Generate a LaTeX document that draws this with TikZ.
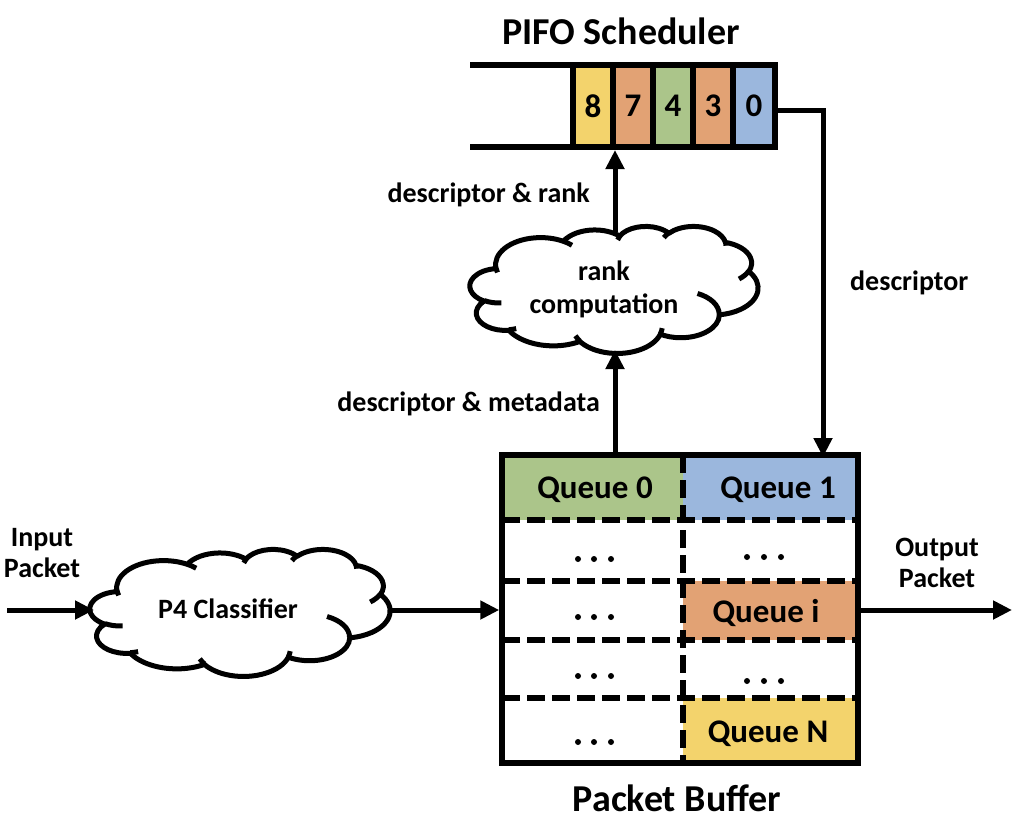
\documentclass[tikz,border=0pt]{standalone}
\usepackage{fontspec}
\setmainfont{Carlito}
\usetikzlibrary{arrows.meta}
\definecolor{qgreen}{HTML}{ABC58A}
\definecolor{qblue}{HTML}{9BB7DD}
\definecolor{qorange}{HTML}{E2A274}
\definecolor{qyellow}{HTML}{F3D36C}
\newcommand\ooarc[4]{arc[x radius=#1pt, y radius=#2pt, start angle={atan2(#1*sin(#3),#2*cos(#3))}, delta angle={mod(atan2(#1*sin(#3+#4),#2*cos(#3+#4))-atan2(#1*sin(#3),#2*cos(#3))+720,360)}]}
\newcommand\officecloud[4]{%
\begin{scope}[shift={(#1,#2)},x=1pt,y=1pt,xscale=#3/432,yscale=-#4/432]
\draw[cloudline,fill=white] (39.00,143.70)
 \ooarc{67.53}{91.90}{-190.4875}{123.7805}
 \ooarc{53.33}{72.67}{-144.1024}{89.9452}
 \ooarc{43.65}{59.45}{-145.8079}{99.7230}
 \ooarc{48.57}{65.95}{-130.9861}{117.2417}
 \ooarc{53.33}{72.73}{-78.7089}{109.0269}
 \ooarc{67.75}{92.20}{-46.2673}{130.2690}
 \ooarc{57.85}{78.67}{0.6250}{114.0333}
 \ooarc{67.52}{92.15}{22.4516}{115.1726}
 \ooarc{77.20}{105.43}{66.2426}{75.7110}
 \ooarc{43.60}{59.18}{-274.9421}{146.7356}
 \ooarc{43.45}{59.45}{-246.8285}{152.5189}
 -- cycle;
\draw[cloudline] (46.93,261.77) \ooarc{43.45}{59.45}{86.7420}{26.4295}
 (69.28,348.99) \ooarc{43.60}{59.18}{73.6105}{11.4475}
 (164.78,390.90) \ooarc{67.52}{92.15}{137.6242}{14.0811}
 (288.27,347.51) \ooarc{67.52}{92.15}{6.4533}{15.9984}
 (341.29,229.54) \ooarc{57.85}{78.67}{-70.2924}{70.9174}
 (417.98,153.54) \ooarc{53.33}{72.73}{30.3180}{27.7515}
 (383.24,54.26) \ooarc{48.57}{65.95}{-13.7443}{14.8589}
 (290.78,39.52) \ooarc{48.57}{65.95}{-149.1815}{18.1954}
 (221.41,47.20) \ooarc{43.65}{59.45}{-163.4943}{17.6864}
 (140.00,51.92) \ooarc{67.53}{91.90}{-66.7070}{12.3194}
 (41.27,157.89) \ooarc{67.53}{91.90}{157.6544}{11.8582};
\end{scope}}
\tikzset{
  thick line/.style={line width=5.5pt},
  cloudline/.style={line width=5pt,line join=round},
  conn/.style={line width=5pt,-{Triangle[length=19pt,width=18pt]}},
  cell/.style={draw,line width=5.5pt,minimum width=40pt,minimum height=82pt,inner sep=0pt,font=\fontsize{33}{33}\selectfont\bfseries},
  lbl/.style={font=\fontsize{28}{31}\selectfont\bfseries,inner sep=0pt,align=center},
  title/.style={font=\fontsize{38}{38}\selectfont\bfseries,inner sep=0pt},
  qtext/.style={font=\fontsize{33}{33}\selectfont\bfseries,inner sep=0pt},
  cloudtext/.style={align=center,inner sep=0pt,font=\fontsize{28}{33}\selectfont\bfseries},
  dashline/.style={line width=5.5pt,dash pattern=on 18pt off 7pt},
  dot/.style={circle,fill,inner sep=0pt,minimum size=6pt},
}
\begin{document}
\begin{tikzpicture}[x=1pt,y=-1pt]
\useasboundingbox (0,0) rectangle (1026,823);
% PIFO scheduler
\node[title] (pifo) at (621,31) {PIFO Scheduler};
\draw[thick line] (470,65) -- (573,65);
\draw[thick line] (470,147) -- (573,147);
\node[cell,fill=qyellow] (c8) at (593,106) {8};
\node[cell,fill=qorange] (c7) at (633,106) {7};
\node[cell,fill=qgreen] (c4) at (673,106) {4};
\node[cell,fill=qorange] (c3) at (713,106) {3};
\node[cell,fill=qblue,minimum width=42pt] (c0) at (754,106) {0};
\coordinate (pifobot) at (615,150);
% rank cloud
\officecloud{470}{226}{288}{127}
\node[cloudtext] (rank) at (604,289) {rank\\computation};
\coordinate (ranktop) at (615,232);
\coordinate (rankbot) at (615,350);
% buffer
\fill[qgreen] (502,455) rectangle (683,520);
\fill[qblue] (683,455) rectangle (858,520);
\fill[qorange] (683,581) rectangle (858,640);
\fill[qyellow] (683,698) rectangle (858,763);
\foreach \y in {520,581,640,698} \draw[dashline] (502,\y) -- (858,\y);
\draw[dashline] (683,455) -- (683,763);
\node[draw,line width=5.5pt,minimum width=356pt,minimum height=308pt,inner sep=0pt] (buf) at (680,609) {};
\node[qtext] (q0) at (595,490) {Queue 0};
\node[qtext] (q1) at (778,490) {Queue 1};
\node[qtext] (qi) at (766,613) {Queue i};
\node[qtext] (qn) at (768,734) {Queue N};
\foreach \y in {559,617,676,742} {
  \node[dot] at (578,\y) {}; \node[dot] at (594,\y) {}; \node[dot] at (611,\y) {};}
\foreach \y in {557,681} {
  \node[dot] at (747,\y) {}; \node[dot] at (764,\y) {}; \node[dot] at (781,\y) {};}
\node[title] (pb) at (677,798) {Packet Buffer};
% P4 cloud
\officecloud{90}{549}{300}{127}
\node[cloudtext] (p4) at (228,609) {P4 Classifier};
\coordinate (p4w) at (94,610);
\coordinate (p4e) at (388,610);
\coordinate (in) at (7,610);
\coordinate (out) at (1012,610);
\node[lbl] (inl) at (42,553) {Input\\Packet};
\node[lbl] (outl) at (937,563) {Output\\Packet};
% connectors
\draw[conn] (in) -- (p4w);
\draw[conn] (p4e) -- (buf.west |- in);
\draw[conn] (buf.east |- out) -- (out);
\draw[conn] (615,455) -- (rankbot);
\draw[conn] (ranktop) -- (pifobot);
\coordinate (turn) at (823,110);
\draw[conn] (c0.east |- turn) -- (turn) -- (823,457);
\node[lbl,anchor=east] (l1) at (590,195) {descriptor \& rank};
\node[lbl,anchor=east] (l2) at (600,404) {descriptor \& metadata};
\node[lbl,anchor=west] (l3) at (850,283) {descriptor};
\end{tikzpicture}
\end{document}
